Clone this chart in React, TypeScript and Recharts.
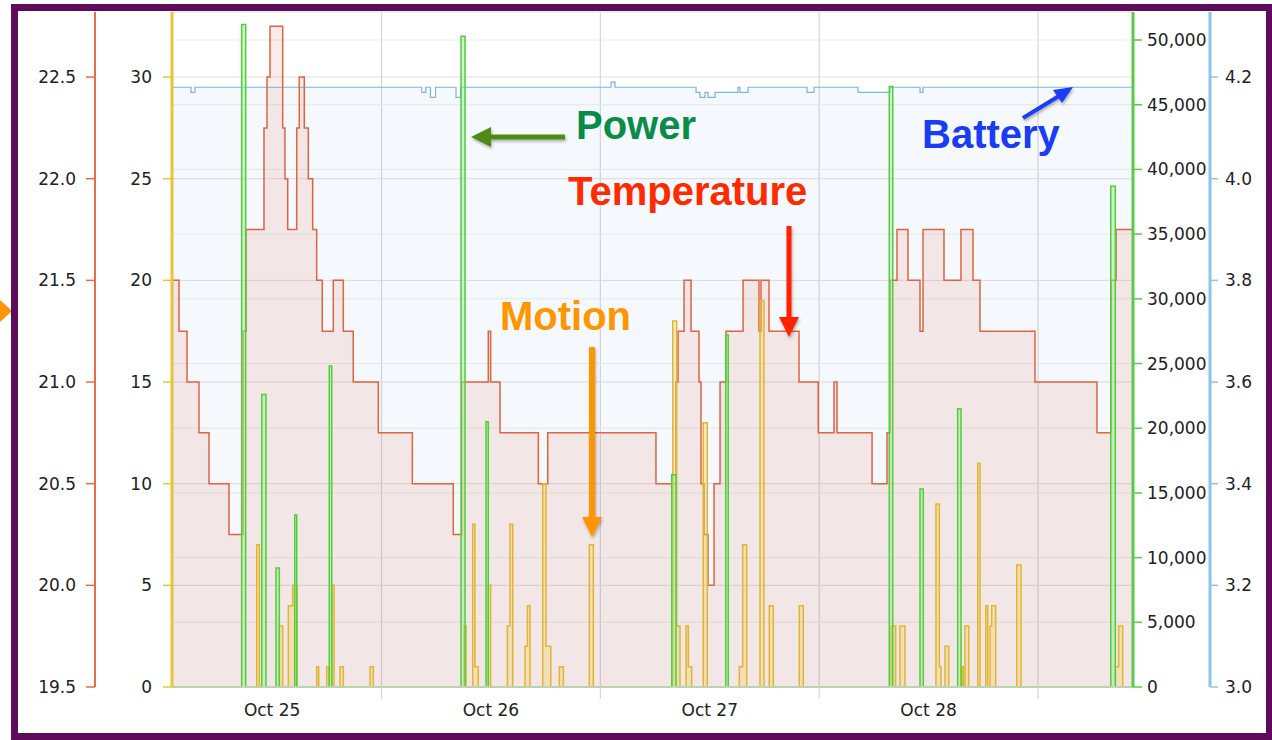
import React from 'react';
import { ComposedChart, Area, XAxis, YAxis, CartesianGrid } from 'recharts';

// x values are hours since Oct 25 00:00
const timeRange = [1.02, 106.42];
const dayTicks = [24, 48, 72, 96];
const labelTicks = [12, 36, 60, 84];
const dayLabels = ['Oct 25', 'Oct 26', 'Oct 27', 'Oct 28'];
const allTimeTicks = [12, 24, 36, 48, 60, 72, 84, 96];

const tempRange = [19.5, 22.82];
const tempTicks = [19.5, 20, 20.5, 21, 21.5, 22, 22.5];
const motionRange = [0, 33.2];
const motionTicks = [0, 5, 10, 15, 20, 25, 30];
const powerRange = [0, 52165];
const powerTicks = [0, 5000, 10000, 15000, 20000, 25000, 30000, 35000, 40000, 45000, 50000];
const batteryRange = [3.0, 4.328];
const batteryTicks = [3.0, 3.2, 3.4, 3.6, 3.8, 4.0, 4.2];

// [hour, value] - each value holds until the next reading
const temperature: [number, number][] = [
  [1.02, 21.5], [1.79, 21.25], [2.67, 21.0], [3.98, 20.75], [5.08, 20.5], [7.27, 20.25],
  [8.81, 21.25], [9.14, 21.75], [11.11, 22.25], [11.44, 22.5], [11.77, 22.75], [13.16, 22.25],
  [13.41, 22.0], [13.71, 21.75], [14.7, 22.25], [14.98, 22.5], [15.53, 22.25], [15.97, 22.0],
  [16.45, 21.75], [16.89, 21.5], [17.5, 21.25], [18.71, 21.5], [19.81, 21.25], [20.9, 21.0],
  [23.65, 20.75], [27.38, 20.5], [31.87, 20.25], [32.79, 21.0], [35.71, 21.25], [35.97, 21.0],
  [37.0, 20.75], [41.2, 20.5], [42.23, 20.75], [54.1, 20.5], [56.3, 21.0], [56.52, 21.25],
  [57.18, 21.5], [57.95, 21.25], [58.82, 21.0], [59.04, 20.5], [59.37, 20.25], [59.81, 20.0],
  [60.47, 20.5], [61.13, 21.0], [61.78, 21.25], [63.65, 21.5], [65.4, 21.25], [65.62, 21.5],
  [66.5, 21.25], [69.79, 21.0], [71.9, 20.75], [73.63, 21.0], [73.96, 20.75], [77.8, 20.5],
  [79.44, 20.75], [79.77, 21.5], [80.54, 21.75], [81.74, 21.5], [83.06, 21.25], [83.39, 21.75],
  [85.69, 21.5], [87.55, 21.75], [88.87, 21.5], [89.64, 21.25], [95.67, 21.0], [102.47, 20.75],
  [104.01, 21.5], [104.56, 21.75], [106.42, 21.75],
];

const motion: [number, number][] = [
  [1.02, 0], [10.31, 7], [10.6, 0], [12.79, 3], [13.16, 0], [13.78, 4], [14.26, 5], [14.73, 0],
  [16.89, 1], [17.11, 0], [17.99, 1], [18.24, 0], [18.54, 5], [18.79, 0], [19.45, 1], [19.81, 0],
  [22.74, 1], [23.1, 0], [33.05, 3], [33.27, 0], [34.0, 8], [34.25, 1], [34.61, 0], [35.71, 5],
  [35.97, 0], [37.8, 3], [38.09, 8], [38.39, 0], [39.74, 2], [40.0, 4], [40.29, 0], [41.68, 10],
  [42.04, 2], [42.56, 0], [43.5, 1], [43.94, 0], [46.79, 7], [47.23, 0], [55.94, 18], [56.37, 3],
  [56.74, 0], [57.4, 3], [57.65, 1], [58.02, 0], [59.29, 13], [59.73, 0], [63.24, 1], [63.61, 7],
  [64.05, 0], [65.51, 19], [65.95, 0], [66.53, 4], [66.97, 0], [69.82, 4], [70.26, 0], [79.88, 3],
  [80.39, 0], [80.86, 3], [81.41, 0], [84.81, 9], [85.18, 1], [85.36, 0], [85.8, 2], [86.21, 0],
  [87.63, 1], [87.81, 0], [87.99, 3], [88.4, 0], [89.39, 11], [89.64, 0], [90.27, 4], [90.49, 0],
  [90.74, 3], [90.92, 4], [91.36, 0], [93.67, 6], [94.14, 0], [104.48, 1], [104.85, 3], [105.29, 0],
  [106.42, 0],
];

const power: [number, number][] = [
  [1.02, 0], [8.66, 51200], [9.1, 0], [10.86, 22600], [11.33, 0], [12.43, 9200], [12.79, 0],
  [14.48, 13300], [14.7, 0], [18.27, 24800], [18.54, 0], [32.72, 50300], [33.16, 0],
  [35.46, 20500], [35.71, 0], [55.83, 16400], [56.3, 0], [61.75, 27200], [62.03, 0],
  [79.69, 46400], [80.07, 0], [83.06, 15300], [83.42, 0], [87.19, 21500], [87.56, 0],
  [103.98, 38700], [104.48, 0], [106.42, 0],
];

const battery: [number, number][] = [
  [1.02, 4.18], [3.1, 4.17], [3.54, 4.18], [28.41, 4.17], [28.85, 4.18], [29.37, 4.16],
  [29.92, 4.18], [32.17, 4.16], [32.68, 4.18], [49.17, 4.19], [49.61, 4.18], [58.5, 4.17],
  [58.93, 4.16], [59.48, 4.17], [59.81, 4.16], [60.58, 4.17], [63.1, 4.18], [63.32, 4.17],
  [64.2, 4.18], [70.67, 4.17], [71.44, 4.18], [76.26, 4.17], [79.77, 4.18], [83.06, 4.17],
  [83.39, 4.18], [106.42, 4.18],
];

const rows = [
  ...battery.map(([h, v]) => ({ h, battery: v })),
  ...temperature.map(([h, v]) => ({ h, temp: v })),
  ...motion.map(([h, v]) => ({ h, motion: v })),
  ...power.map(([h, v]) => ({ h, power: v })),
].sort((a, b) => a.h - b.h);

const tickFont = { fill: '#222', fontSize: 17, fontFamily: 'DejaVu Sans' };
const oneDecimal = (v: number) => v.toFixed(1);
const thousands = (v: number) => v.toLocaleString('en-US');

const xLine = { stroke: '#d4d4d4', strokeWidth: 1.5 };
const motionLine = { stroke: '#e8c43a', strokeWidth: 3 };
const motionTick = { stroke: '#e8c43a', strokeWidth: 1.5 };
const tempLine = { stroke: '#e66d47', strokeWidth: 2 };
const tempTick = { stroke: '#e66d47', strokeWidth: 1.5 };
const powerLine = { stroke: '#58cc44', strokeWidth: 3 };
const powerTick = { stroke: '#58cc44', strokeWidth: 1.5 };
const batteryLine = { stroke: '#8cc4ec', strokeWidth: 3 };
const batteryTick = { stroke: '#8cc4ec', strokeWidth: 1.5 };
const margin = { top: 12, right: 12, bottom: 13, left: 15 };

const DateTick = (props: any) => {
  const { x, y, payload } = props;
  const i = labelTicks.indexOf(payload.value);
  if (i >= 0) {
    return (
      <text x={x} y={y} dy="0.71em" textAnchor="middle" {...tickFont}>
        {dayLabels[i]}
      </text>
    );
  }
  return <line x1={x} x2={x} y1={y - 17} y2={y - 5} stroke="#d6d6d6" strokeWidth={1.2} />;
};
const dateTick = <DateTick />;

const Annotations = () => (
  <svg width={1272} height={740} style={{ position: 'absolute', left: 0, top: 0, pointerEvents: 'none' }}>
    <defs>
      <filter id="sh" x="-20%" y="-50%" width="140%" height="200%">
        <feDropShadow dx="1" dy="2" stdDeviation="1.5" floodColor="#000" floodOpacity="0.3" />
      </filter>
    </defs>
    <g fontFamily="Liberation Sans, Arial, sans-serif" fontWeight="bold" fontSize={40}>
      <text x={576} y={139} fill="#0a8c48">Power</text>
      <text x={922} y={148} fill="#1a3cf5">Battery</text>
      <text x={568} y={205} fill="#ff2a00">Temperature</text>
      <text x={500} y={330} fill="#ff9500">Motion</text>
    </g>
    <g filter="url(#sh)">
      <line x1={565} y1={137} x2={488} y2={137} stroke="#4b8b12" strokeWidth={5} />
      <polygon points="471,137 491,127 491,147" fill="#4b8b12" />
      <line x1={1023} y1={118} x2={1059} y2={96} stroke="#1a3cf0" strokeWidth={4} />
      <polygon points="1073,87 1062,103 1053,90" fill="#1a3cf0" />
      <line x1={789} y1={226} x2={789} y2={319} stroke="#ff2200" strokeWidth={5} />
      <polygon points="779,317 799,317 789,337" fill="#ff2200" />
      <line x1={592} y1={347} x2={592} y2={519} stroke="#ff9500" strokeWidth={6} />
      <polygon points="582,517 602,517 592,537" fill="#ff9500" />
    </g>
    <polygon points="0,300 12,311 0,322" fill="#ff9500" />
  </svg>
);

export default function App() {
  return (
    <div style={{ position: 'absolute', left: 0, top: 0, width: 1272, height: 740, background: '#fff', overflow: 'hidden' }}>
      <ComposedChart width={1272} height={740} data={rows} margin={margin}>
        <XAxis
          xAxisId="time"
          dataKey="h"
          type="number"
          domain={timeRange}
          ticks={allTimeTicks}
          interval={0}
          height={40}
          tickLine={false}
          tickSize={12}
          tickMargin={5}
          axisLine={xLine}
          tick={dateTick}
        />
        <XAxis xAxisId="days" dataKey="h" type="number" domain={timeRange} ticks={dayTicks} interval={0} height={0} hide />

        <YAxis
          yAxisId="m"
          orientation="left"
          width={77}
          type="number"
          domain={motionRange}
          ticks={motionTicks}
          interval={0}
          axisLine={motionLine}
          tickLine={motionTick}
          tickSize={9}
          tickMargin={11}
          tick={tickFont}
        />
        <YAxis
          yAxisId="t"
          orientation="left"
          width={80}
          type="number"
          domain={tempRange}
          ticks={tempTicks}
          interval={0}
          tickFormatter={oneDecimal}
          axisLine={tempLine}
          tickLine={tempTick}
          tickSize={9}
          tickMargin={10}
          tick={tickFont}
        />
        <YAxis
          yAxisId="v"
          orientation="right"
          width={50}
          type="number"
          domain={batteryRange}
          ticks={batteryTicks}
          interval={0}
          tickFormatter={oneDecimal}
          axisLine={batteryLine}
          tickLine={batteryTick}
          tickSize={8}
          tickMargin={7}
          tick={tickFont}
        />
        <YAxis
          yAxisId="p"
          orientation="right"
          width={77}
          type="number"
          domain={powerRange}
          ticks={powerTicks}
          interval={0}
          tickFormatter={thousands}
          axisLine={powerLine}
          tickLine={powerTick}
          tickSize={9}
          tickMargin={5}
          tick={tickFont}
        />

        <CartesianGrid xAxisId="days" yAxisId="t" horizontal={false} stroke="#d6d6d6" strokeWidth={1.2} />
        <CartesianGrid xAxisId="days" yAxisId="t" vertical={false} stroke="#e2dcdc" />
        <CartesianGrid xAxisId="days" yAxisId="p" vertical={false} stroke="#e6f1e4" />

        <Area
          xAxisId="time"
          yAxisId="v"
          type="stepAfter"
          dataKey="battery"
          stroke="#78b5e6"
          strokeWidth={1.2}
          fill="#7bb8e6"
          fillOpacity={0.08}
          connectNulls
          isAnimationActive={false}
        />
        <Area
          xAxisId="time"
          yAxisId="t"
          type="stepAfter"
          dataKey="temp"
          stroke="#df6440"
          strokeWidth={1.5}
          fill="#db6346"
          fillOpacity={0.12}
          connectNulls
          isAnimationActive={false}
        />
        <Area
          xAxisId="time"
          yAxisId="m"
          type="stepAfter"
          dataKey="motion"
          stroke="#e2b530"
          strokeWidth={1.5}
          fill="#f0d060"
          fillOpacity={0.35}
          connectNulls
          isAnimationActive={false}
        />
        <Area
          xAxisId="time"
          yAxisId="p"
          type="stepAfter"
          dataKey="power"
          stroke="#4fcf3a"
          strokeWidth={1.5}
          fill="#a8e89a"
          fillOpacity={0.5}
          connectNulls
          isAnimationActive={false}
        />
      </ComposedChart>
      <Annotations />
      <div
        style={{
          position: 'absolute',
          left: 11,
          top: 4,
          width: 1261,
          height: 736,
          borderStyle: 'solid',
          borderColor: '#5e0b5c',
          borderWidth: '7px 6px 7px 7px',
          boxSizing: 'border-box',
          pointerEvents: 'none',
        }}
      />
    </div>
  );
}
